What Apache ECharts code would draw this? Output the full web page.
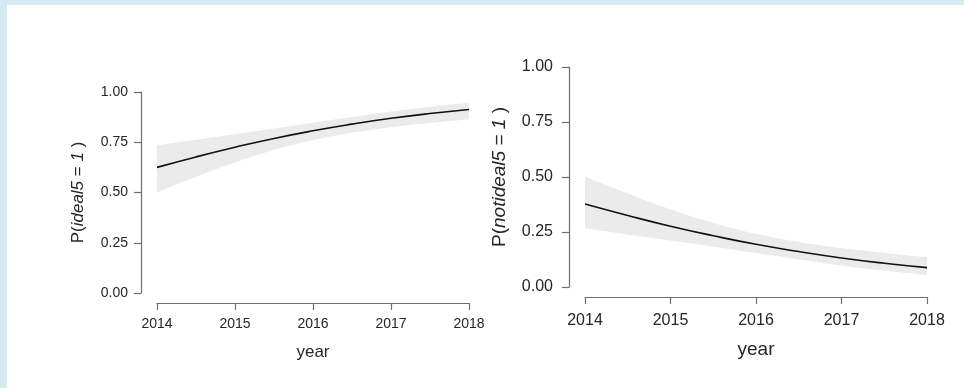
<!DOCTYPE html>
<html>
<head>
<meta charset="utf-8">
<script src="https://cdn.jsdelivr.net/npm/echarts@6/dist/echarts.min.js"></script>
<style>
  html, body { margin: 0; padding: 0; background: #fff; }
  #frame { position: absolute; left: 0; top: 0; width: 964px; height: 388px; box-sizing: border-box;
           border-top: 5px solid #d6ebf1; border-left: 7px solid #d6ebf1; }
  #main { position: absolute; left: 0; top: 0; width: 964px; height: 388px; }
</style>
</head>
<body>
<div id="frame"></div>
<div id="main"></div>
<script>
// values, half-year steps
var years = [2014, 2014.5, 2015, 2015.5, 2016, 2016.5, 2017, 2017.5, 2018];
var yearTicks = [2014, 2015, 2016, 2017, 2018];

var idealFit   = [0.625, 0.677, 0.725, 0.769, 0.807, 0.840, 0.869, 0.893, 0.913];
var idealLower = [0.500, 0.578, 0.649, 0.711, 0.760, 0.797, 0.825, 0.846, 0.865];
var idealUpper = [0.735, 0.763, 0.790, 0.818, 0.847, 0.876, 0.903, 0.927, 0.945];

var notFit   = [0.377, 0.325, 0.276, 0.233, 0.194, 0.161, 0.132, 0.108, 0.088];
var notLower = [0.267, 0.239, 0.211, 0.183, 0.154, 0.125, 0.098, 0.074, 0.056];
var notUpper = [0.502, 0.425, 0.353, 0.291, 0.242, 0.205, 0.177, 0.155, 0.136];

var FONT = 'Liberation Sans';
var TEXT = '#262626';
var AXIS = '#6e6e6e';

function pairs(xs, ys) {
  return xs.map(function (x, i) { return [x, ys[i]]; });
}

function xAxis(idx, fs, nameFs, margin, gap) {
  return {
    gridIndex: idx, type: 'value', min: 2014, max: 2018, interval: 1,
    offset: 10, name: 'year', nameLocation: 'middle', nameGap: gap,
    nameTextStyle: { fontFamily: FONT, fontSize: nameFs, color: TEXT },
    axisLine: { show: true, onZero: false, lineStyle: { color: AXIS, width: 1.2 } },
    axisTick: { show: true, length: 7, lineStyle: { color: AXIS, width: 1.2 } },
    axisLabel: { fontFamily: FONT, fontSize: fs, color: TEXT, margin: margin,
                 formatter: function (v) { return yearTicks.indexOf(v) >= 0 ? String(v) : ''; } },
    splitLine: { show: false }
  };
}
function yAxis(idx, label, fs, nameFs, margin, gap) {
  return {
    gridIndex: idx, type: 'value', min: 0, max: 1, interval: 0.25,
    offset: 16, name: '{n|P(}{i|' + label + '}{n| = }{i|1}{n| )}',
    nameLocation: 'middle', nameGap: gap, nameRotate: 90,
    nameTextStyle: {
      rich: {
        n: { fontFamily: FONT, fontSize: nameFs, color: TEXT },
        i: { fontFamily: FONT, fontSize: nameFs, color: TEXT, fontStyle: 'italic' }
      }
    },
    axisLine: { show: true, lineStyle: { color: AXIS, width: 1.2 } },
    axisTick: { show: true, length: 7, lineStyle: { color: AXIS, width: 1.2 } },
    axisLabel: { fontFamily: FONT, fontSize: fs, color: TEXT, margin: margin,
                 formatter: function (v) { return v.toFixed(2); } },
    splitLine: { show: false }
  };
}

// grey area down to the upper bound, then a white area down to the lower bound on top of it
function bandSeries(idx, lo, hi, fit) {
  return [
    { type: 'line', xAxisIndex: idx, yAxisIndex: idx, data: pairs(years, hi), z: 1,
      symbol: 'none', smooth: true, lineStyle: { width: 0, color: '#ebebeb' },
      areaStyle: { color: '#ebebeb', opacity: 1, origin: 'start' }, silent: true },
    { type: 'line', xAxisIndex: idx, yAxisIndex: idx, data: pairs(years, lo), z: 2,
      symbol: 'none', smooth: true, lineStyle: { width: 0, color: '#fff' },
      areaStyle: { color: '#fff', opacity: 1, origin: 'start' }, silent: true },
    { type: 'line', xAxisIndex: idx, yAxisIndex: idx, data: pairs(years, fit), z: 3,
      symbol: 'none', smooth: true, lineStyle: { color: '#111', width: 1.6 } }
  ];
}

var chart = echarts.init(document.getElementById('main'));
chart.setOption({
  animation: false,
  backgroundColor: 'transparent',
  grid: [
    { left: 157, top: 92, width: 312, height: 201 },
    { left: 585, top: 67, width: 342, height: 220 }
  ],
  xAxis: [xAxis(0, 14, 17, 14, 41), xAxis(1, 16, 19, 16, 43)],
  yAxis: [yAxis(0, 'ideal5', 14, 17, 13, 54), yAxis(1, 'notideal5', 16, 19, 16, 60)],
  series: bandSeries(0, idealLower, idealUpper, idealFit)
    .concat(bandSeries(1, notLower, notUpper, notFit))
});
</script>
</body>
</html>
